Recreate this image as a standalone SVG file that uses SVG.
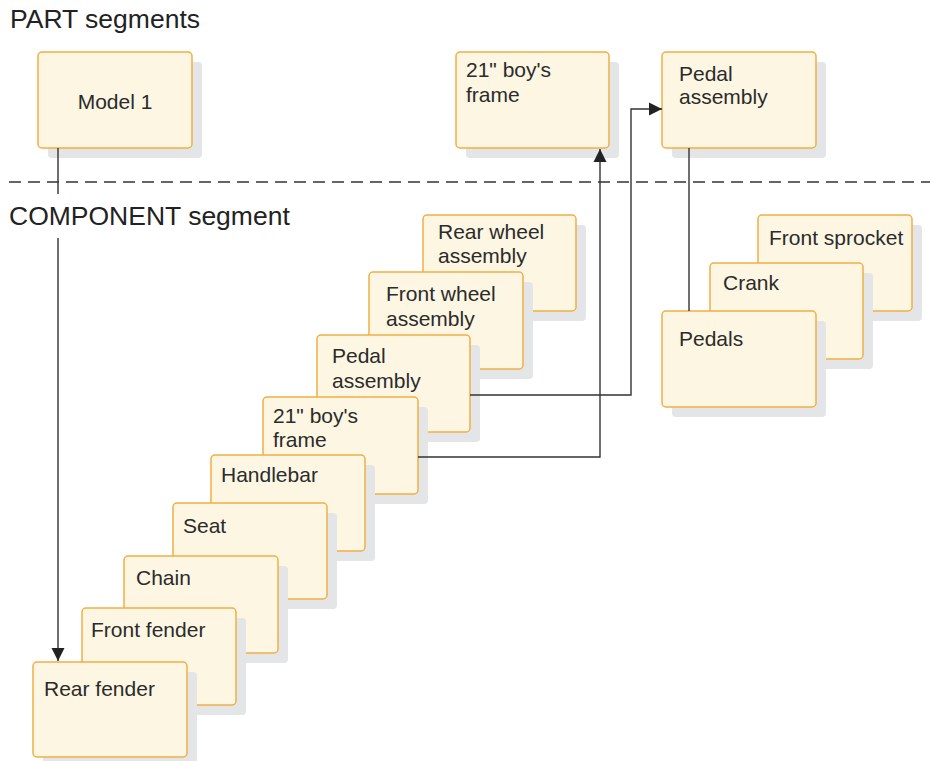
<svg xmlns="http://www.w3.org/2000/svg" width="930" height="761" viewBox="0 0 930 761">
  <defs>
    <style>
      .shadow { fill: #e4e5e7; }
      .card { fill: #fdf6e3; stroke: #f1ae45; stroke-width: 1.5; }
      .lbl { font-family: "Liberation Sans", Arial, sans-serif; font-size: 21px; fill: #2b2b2b; }
      .title { font-family: "Liberation Sans", Arial, sans-serif; font-size: 26.5px; fill: #222; }
      .conn { fill: none; stroke: #333; stroke-width: 1.4; }
    </style>
    <marker id="arrow" markerUnits="userSpaceOnUse" markerWidth="14" markerHeight="14" viewBox="0 0 14 14" refX="13" refY="7" orient="auto">
      <path d="M0,0.5 L13,7 L0,13.5 Z" fill="#222"/>
    </marker>
  </defs>
  <rect width="930" height="761" fill="#fff"/>

  <text class="title" x="10" y="28">PART segments</text>
  <text class="title" x="9" y="225">COMPONENT segment</text>
  <line x1="9" y1="182" x2="930" y2="182" stroke="#333" stroke-width="1.3" stroke-dasharray="12,7"/>

  <g id="model1">
    <rect class="shadow" x="48" y="62" width="154" height="96" rx="4"/>
    <rect class="card" x="38" y="52" width="154" height="96" rx="4"/>
    <text class="lbl" x="115" y="109" text-anchor="middle">Model 1</text>
  </g>
  <g id="part-frame">
    <rect class="shadow" x="466" y="62" width="153" height="96" rx="4"/>
    <rect class="card" x="456" y="52" width="153" height="96" rx="4"/>
    <text class="lbl" x="466" y="77">21" boy's</text>
    <text class="lbl" x="466" y="102">frame</text>
  </g>
  <g id="part-pedal">
    <rect class="shadow" x="672" y="62" width="154" height="96" rx="4"/>
    <rect class="card" x="662" y="52" width="154" height="96" rx="4"/>
    <text class="lbl" x="679" y="81">Pedal</text>
    <text class="lbl" x="679" y="104">assembly</text>
  </g>

  <g id="rear-wheel">
    <rect class="shadow" x="433" y="225" width="153" height="96" rx="4"/>
    <rect class="card" x="423" y="215" width="153" height="96" rx="4"/>
    <text class="lbl" x="438" y="239">Rear wheel</text>
    <text class="lbl" x="438" y="263">assembly</text>
  </g>
  <g id="front-wheel">
    <rect class="shadow" x="379" y="282" width="154" height="97" rx="4"/>
    <rect class="card" x="369" y="272" width="154" height="97" rx="4"/>
    <text class="lbl" x="386" y="301">Front wheel</text>
    <text class="lbl" x="386" y="326">assembly</text>
  </g>
  <g id="pedal-assembly">
    <rect class="shadow" x="327" y="345" width="153" height="97" rx="4"/>
    <rect class="card" x="317" y="335" width="153" height="97" rx="4"/>
    <text class="lbl" x="332" y="363">Pedal</text>
    <text class="lbl" x="332" y="388">assembly</text>
  </g>
  <g id="boys-frame">
    <rect class="shadow" x="273" y="407" width="155" height="97" rx="4"/>
    <rect class="card" x="263" y="397" width="155" height="97" rx="4"/>
    <text class="lbl" x="273" y="423">21" boy's</text>
    <text class="lbl" x="273" y="447">frame</text>
  </g>
  <g id="handlebar">
    <rect class="shadow" x="221" y="465" width="154" height="96" rx="4"/>
    <rect class="card" x="211" y="455" width="154" height="96" rx="4"/>
    <text class="lbl" x="221" y="482">Handlebar</text>
  </g>
  <g id="seat">
    <rect class="shadow" x="183" y="513" width="154" height="96" rx="4"/>
    <rect class="card" x="173" y="503" width="154" height="96" rx="4"/>
    <text class="lbl" x="183" y="533">Seat</text>
  </g>
  <g id="chain">
    <rect class="shadow" x="134" y="566" width="154" height="97" rx="4"/>
    <rect class="card" x="124" y="556" width="154" height="97" rx="4"/>
    <text class="lbl" x="136" y="585">Chain</text>
  </g>
  <g id="front-fender">
    <rect class="shadow" x="92" y="618" width="154" height="97" rx="4"/>
    <rect class="card" x="82" y="608" width="154" height="97" rx="4"/>
    <text class="lbl" x="91" y="637">Front fender</text>
  </g>
  <g id="rear-fender">
    <rect class="shadow" x="43" y="672" width="154" height="95" rx="4"/>
    <rect class="card" x="33" y="662" width="154" height="95" rx="4"/>
    <text class="lbl" x="44" y="696">Rear fender</text>
  </g>

  <g id="front-sprocket">
    <rect class="shadow" x="768" y="225" width="154" height="96" rx="4"/>
    <rect class="card" x="758" y="215" width="154" height="96" rx="4"/>
    <text class="lbl" x="769" y="245">Front sprocket</text>
  </g>
  <g id="crank">
    <rect class="shadow" x="720" y="273" width="153" height="96" rx="4"/>
    <rect class="card" x="710" y="263" width="153" height="96" rx="4"/>
    <text class="lbl" x="723" y="290">Crank</text>
  </g>
  <g id="pedals">
    <rect class="shadow" x="672" y="321" width="154" height="96" rx="4"/>
    <rect class="card" x="662" y="311" width="154" height="96" rx="4"/>
    <text class="lbl" x="679" y="346">Pedals</text>
  </g>

  <g id="connectors">
    <line class="conn" x1="58" y1="148" x2="58" y2="194" stroke="#555"/>
    <path class="conn" d="M58,238 V661" marker-end="url(#arrow)"/>
    <path class="conn" d="M418,457 H600 V149" marker-end="url(#arrow)"/>
    <path class="conn" d="M470,395 H631 V109 H662" marker-end="url(#arrow)"/>
    <path class="conn" d="M689,148 V311"/>
  </g>
</svg>
